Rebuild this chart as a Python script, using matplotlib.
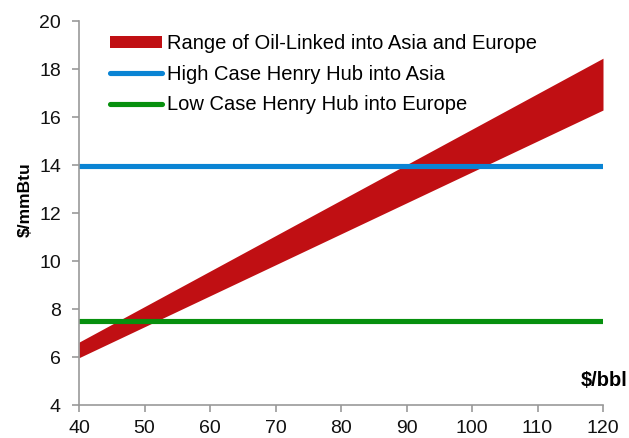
import matplotlib
matplotlib.use("Agg")
import matplotlib.pyplot as plt
import numpy as np

plt.rcParams['font.family'] = ['Liberation Sans', 'DejaVu Sans']

oil_price = [40, 120]
oil_linked_low = [5.97, 16.29]
oil_linked_high = [6.62, 18.45]
hh_asia = [13.95, 13.95]
hh_europe = [7.48, 7.48]

x_ticks = [40, 50, 60, 70, 80, 90, 100, 110, 120]
y_ticks = [4, 6, 8, 10, 12, 14, 16, 18, 20]

W, H = 629, 438
fig = plt.figure(figsize=(W / 100, H / 100), dpi=100)
ax = fig.add_axes([79 / W, (H - 405) / H, (603 - 79) / W, (405 - 21) / H])

ax.fill_between(oil_price, oil_linked_low, oil_linked_high, color='#C00F13', lw=0,
                label='Range of Oil-Linked into Asia and Europe')
ax.plot(oil_price, hh_asia, color='#0A84D4', lw=3.7, solid_capstyle='round',
        label='High Case Henry Hub into Asia')
ax.plot(oil_price, hh_europe, color='#07900E', lw=3.7, solid_capstyle='round',
        label='Low Case Henry Hub into Europe')

ax.set_xlim(40, 120)
ax.set_ylim(4, 20)
ax.set_xticks(x_ticks)
ax.set_yticks(y_ticks)
for s in ['top', 'right']:
    ax.spines[s].set_visible(False)
for s in ['left', 'bottom']:
    ax.spines[s].set_color('#999999')
    ax.spines[s].set_linewidth(1.2)
ax.tick_params(direction='out', length=5, width=1.2, color='#999999',
               labelsize=14, labelcolor='#111111')
ax.tick_params(axis='y', pad=8)
ax.tick_params(axis='x', pad=6)

fig.text(25 / W, (H - 200) / H, '$/mmBtu', fontsize=12.5, fontweight='bold',
         rotation=90, ha='center', va='center')
fig.text(0.997, (H - 380) / H, '$/bbl', fontsize=14.5, fontweight='bold',
         ha='right', va='center')

leg = ax.legend(loc='upper left', bbox_to_anchor=(110 / W, (H - 34) / H),
                bbox_transform=fig.transFigure, frameon=False,
                fontsize=14.5, handlelength=2.6, handleheight=0.55, handletextpad=0.25,
                labelspacing=0.58, borderaxespad=0, borderpad=0)

fig.savefig('out.png', dpi=100)
